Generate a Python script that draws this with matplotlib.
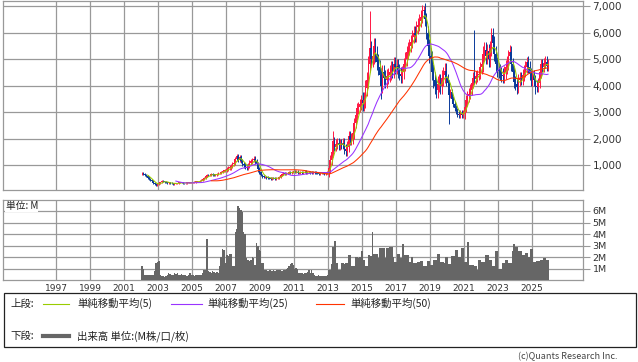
import matplotlib
matplotlib.use("Agg")
import matplotlib.pyplot as plt
import numpy as np
import pandas as pd
from matplotlib.patches import Rectangle
from matplotlib.lines import Line2D

# monthly candles, Jan 2002 .. Dec 2025 (one line per year)
start_year = 2002
monthly_close = [
    700, 680, 640, 600, 540, 500, 450, 400, 330, 280, 260, 300,          # 2002
    330, 360, 420, 400, 370, 350, 330, 340, 330, 320, 300, 310,          # 2003
    320, 330, 340, 350, 340, 330, 320, 330, 340, 340, 350, 360,          # 2004
    360, 370, 380, 390, 400, 420, 450, 480, 520, 600, 640, 620,          # 2005
    640, 660, 650, 630, 640, 660, 700, 720, 760, 780, 800, 820,          # 2006
    850, 900, 920, 980, 1050, 1100, 1250, 1350, 1200, 1300, 1150, 1050,  # 2007
    1000, 950, 900, 980, 1100, 1150, 1200, 1250, 1150, 1050, 850, 750,  # 2008
    650, 580, 550, 560, 540, 520, 510, 500, 520, 510, 500, 510,          # 2009
    530, 560, 620, 680, 700, 690, 700, 720, 740, 730, 750, 760,          # 2010
    740, 760, 700, 720, 750, 730, 740, 760, 720, 740, 750, 730,          # 2011
    720, 740, 730, 720, 700, 690, 700, 710, 700, 690, 700, 750,          # 2012
    900, 1200, 1500, 1900, 1700, 1800, 1850, 1750, 1800, 1780, 1850, 1600,  # 2013
    1550, 1700, 2100, 1950, 2000, 2200, 2600, 2900, 3150, 3200, 3300, 3450,  # 2014
    3350, 3450, 3900, 4200, 4800, 5400, 5000, 5100, 5500, 5200, 4900, 4700,  # 2015
    4400, 4000, 4500, 4300, 4200, 4350, 4400, 4500, 4650, 4550, 4800, 4700,  # 2016
    4750, 4550, 4450, 4350, 4500, 4800, 5000, 5250, 5400, 5500, 5650, 5850,  # 2017
    6000, 5900, 6200, 6300, 6450, 6600, 6800, 6850, 6500, 6000, 5500, 5100,  # 2018
    5000, 4500, 4200, 4000, 3850, 4050, 4150, 4000, 4300, 4400, 4550, 4300,  # 2019
    4100, 3650, 3750, 3500, 3300, 3150, 3050, 2950, 2900, 2950, 2900, 2950,  # 2020
    3200, 3450, 3600, 3700, 3850, 4100, 4300, 4250, 4350, 4400, 4450, 4700,  # 2021
    4800, 5200, 5350, 5100, 5300, 5000, 5400, 5900, 5600, 5200, 4800, 4600,  # 2022
    4550, 4450, 4400, 4350, 4500, 4700, 4850, 5100, 5250, 4800, 4500, 4150,  # 2023
    4050, 3950, 4200, 4300, 4250, 4400, 4550, 4700, 4900, 4700, 4450, 4200,  # 2024
    4400, 4200, 4000, 3950, 4100, 4500, 4800, 4700, 4850, 4900, 4750, 4800,  # 2025
]

# typical wick length beyond the body for each year, 2002 .. 2025
wick_pad = [40, 25, 20, 25, 35, 80, 90, 40, 40, 45, 40, 180,
            200, 300, 280, 250, 250, 300, 120, 200, 280, 250, 220, 200]

# notable wick extremes: (month index, value)
wick_high = [(0, 760), (67, 1420), (135, 2280), (161, 6800), (199, 7000),
             (235, 6100), (260, 5520), (272, 5080)]
wick_low = [(0, 620), (169, 3500), (217, 2540), (265, 3680), (278, 3680)]

# monthly volume in millions
monthly_volume = [
    1.2, 1.0, 0.45, 0.45, 0.5, 0.45, 0.45, 0.5, 0.45, 0.8, 1.5, 1.6,   # 2002
    1.7, 0.5, 0.35, 0.35, 0.3, 0.35, 0.5, 0.6, 0.55, 0.45, 0.5, 0.6,   # 2003
    0.55, 0.6, 0.5, 0.45, 0.55, 0.5, 0.5, 0.45, 0.4, 0.5, 0.6, 0.45,   # 2004
    0.45, 0.4, 0.45, 0.5, 0.5, 0.45, 0.5, 0.6, 0.9, 0.9, 3.6, 0.8,     # 2005
    0.7, 0.6, 0.8, 0.7, 0.6, 0.7, 0.6, 1.2, 2.0, 2.7, 2.6, 1.5,        # 2006
    2.2, 2.1, 2.3, 2.3, 1.2, 1.2, 4.2, 4.4, 6.4, 6.3, 6.1, 5.9,        # 2007
    4.2, 4.0, 1.9, 1.8, 1.7, 1.8, 2.0, 1.9, 1.3, 3.2, 3.0, 2.6,        # 2008
    2.5, 1.5, 1.5, 0.9, 0.9, 0.8, 0.9, 0.85, 0.8, 0.9, 0.8, 0.85,      # 2009
    0.9, 0.85, 0.9, 0.8, 0.9, 0.9, 1.0, 1.1, 1.2, 1.4, 1.5, 1.3,       # 2010
    1.0, 1.1, 1.0, 0.6, 0.6, 0.6, 0.55, 0.6, 0.6, 0.7, 0.9, 0.6,       # 2011
    0.9, 0.6, 0.5, 0.4, 0.4, 0.45, 0.4, 0.35, 0.4, 0.4, 0.4, 0.45,     # 2012
    0.9, 0.9, 1.4, 2.9, 3.4, 3.4, 1.5, 0.9, 0.9, 1.5, 1.5, 1.4,        # 2013
    1.5, 1.5, 2.2, 2.2, 1.2, 1.2, 1.2, 2.0, 2.0, 1.9, 2.0, 2.5,        # 2014
    2.5, 1.8, 1.2, 1.2, 2.2, 2.2, 2.1, 4.2, 2.3, 2.3, 2.3, 1.9,        # 2015
    2.8, 2.8, 2.8, 2.8, 1.9, 2.8, 2.8, 2.9, 2.9, 2.9, 2.0, 1.6,        # 2016
    1.6, 2.3, 2.3, 1.9, 3.1, 3.1, 2.2, 2.2, 2.2, 1.6, 1.6, 2.0,        # 2017
    1.5, 1.5, 1.5, 1.6, 1.6, 1.7, 1.7, 1.2, 1.2, 1.2, 1.7, 1.7,        # 2018
    1.3, 1.3, 1.75, 1.75, 1.75, 2.3, 2.3, 1.6, 1.6, 1.6, 1.5, 2.0,     # 2019
    2.0, 1.4, 1.4, 2.1, 2.1, 2.1, 2.6, 2.6, 2.0, 2.0, 2.8, 2.8,        # 2020
    1.6, 1.6, 3.3, 3.3, 1.3, 1.3, 1.3, 1.2, 1.2, 0.9, 1.8, 1.8,        # 2021
    1.6, 1.6, 1.6, 2.2, 2.2, 2.2, 1.75, 1.75, 1.2, 1.2, 2.5, 2.5,      # 2022
    1.0, 1.0, 1.0, 1.5, 1.5, 1.8, 1.8, 1.5, 1.5, 1.5, 2.5, 3.15,       # 2023
    2.85, 2.85, 2.5, 2.5, 2.5, 2.2, 2.2, 2.4, 2.4, 2.0, 2.0, 2.7,      # 2024
    2.7, 1.6, 1.6, 1.7, 1.7, 1.7, 1.75, 1.75, 1.9, 1.9, 1.8, 1.8,      # 2025
]

year_ticks = list(range(1997, 2026, 2))
price_ticks = [1000, 2000, 3000, 4000, 5000, 6000, 7000]
volume_ticks = [1, 2, 3, 4, 5, 6]
ma_windows = [5, 25, 50]
ma_colors = ["#99cc00", "#9933ff", "#ff3300"]
ma_labels = ["単純移動平均(5)", "単純移動平均(25)", "単純移動平均(50)"]

W, H = 638, 362
GRID = "#999999"
JP = ["Noto Sans CJK JP", "DejaVu Sans"]


def fx(px):
    return px / W


def fy(py):
    return 1 - py / H


close = np.array(monthly_close, float)
open_ = np.r_[close[0], close[:-1]]
pad = np.repeat(wick_pad, 12)
high = np.maximum(open_, close) + pad
low = np.minimum(open_, close) - pad
for i, v in wick_high:
    high[i] = v
for i, v in wick_low:
    low[i] = v
x = start_year + (np.arange(len(close)) + 0.5) / 12
up = close >= open_
colors = np.where(up, "#ff1744", "#0a3a9a")

fig = plt.figure(figsize=(W / 100, H / 100), dpi=100)

# --- price panel ---
ax1 = fig.add_axes([fx(3.3), fy(190.3), fx(582.7) - fx(3.3), fy(0.5) - fy(190.3)])
ax1.vlines(x, low, high, colors=colors, lw=0.7, zorder=3)
body = np.maximum(np.abs(close - open_), 25)
ax1.bar(x, body, bottom=np.minimum(open_, close), width=0.095, color=colors,
        linewidth=0, zorder=3)
ser = pd.Series(close)
for n, c in zip(ma_windows, ma_colors):
    ax1.plot(x, ser.rolling(n).mean(), color=c, lw=0.75, zorder=4)

ax1.set_xlim(1993.88, 2028.0)
ax1.set_ylim(58, 7207)
ax1.set_xticks(year_ticks)
ax1.tick_params(axis="x", length=0, labelbottom=False)
ax1.yaxis.tick_right()
ax1.set_yticks(price_ticks)
ax1.set_yticklabels([f"{v:,}" for v in price_ticks])
ax1.tick_params(axis="y", length=5, width=0.8, color=GRID, labelsize=7.5, pad=2,
                labelcolor="#333333")
ax1.grid(True, color=GRID, lw=0.9, zorder=0)
for s in ax1.spines.values():
    s.set_color(GRID)
    s.set_linewidth(0.9)

# --- volume panel ---
ax2 = fig.add_axes([fx(3.3), fy(280.3), fx(582.7) - fx(3.3), fy(200) - fy(280.3)])
ax2.bar(x, monthly_volume, width=1 / 12, color="#666666", linewidth=0, zorder=3)
ax2.set_xlim(1993.88, 2028.0)
ax2.set_ylim(0, 6.95)
ax2.set_xticks(year_ticks)
ax2.set_xticklabels([str(y) for y in year_ticks])
ax2.tick_params(axis="x", length=0, labelsize=6.5, pad=2.5, labelcolor="#333333")
ax2.yaxis.tick_right()
ax2.set_yticks(volume_ticks)
ax2.set_yticklabels([f"{v}M" for v in volume_ticks])
ax2.tick_params(axis="y", length=5, width=0.8, color=GRID, labelsize=6.8, pad=2,
                labelcolor="#333333")
ax2.grid(True, color=GRID, lw=0.9, zorder=0)
for s in ax2.spines.values():
    s.set_color(GRID)
    s.set_linewidth(0.9)
ax2.text(0.004, 0.985, "単位: M", transform=ax2.transAxes, ha="left", va="top",
         fontsize=7, family=JP, color="#222222", zorder=5,
         bbox=dict(facecolor="white", edgecolor="none", pad=0.3))

# --- legend box ---
fig.patches.append(Rectangle((fx(3.5), fy(347)), fx(635.5) - fx(3.5), fy(293) - fy(347),
                             transform=fig.transFigure, fill=False,
                             edgecolor="#222222", lw=0.9))
row1, row2 = 303.5, 336
fig.text(fx(10), fy(row1), "上段:", family=JP, fontsize=7.5, va="center", color="#222222")
line_spans = [(43, 69), (171, 202), (316, 344)]
text_x = [77, 207, 350]
for (a, b), tx, c, lab in zip(line_spans, text_x, ma_colors, ma_labels):
    fig.lines.append(Line2D([fx(a), fx(b)], [fy(row1), fy(row1)], color=c, lw=0.8,
                            transform=fig.transFigure))
    fig.text(fx(tx), fy(row1), lab, family=JP, fontsize=7.5, va="center", color="#222222")
fig.text(fx(10), fy(row2), "下段:", family=JP, fontsize=7.5, va="center", color="#222222")
fig.lines.append(Line2D([fx(43), fx(69)], [fy(row2), fy(row2)], color="#666666", lw=3,
                        transform=fig.transFigure))
fig.text(fx(77), fy(row2), "出来高 単位:(M株/口/枚)", family=JP, fontsize=7.5,
         va="center", color="#222222")

fig.text(fx(617), fy(357), "(c)Quants Research Inc.", family=JP, fontsize=6.5,
         ha="right", va="center", color="#444444")

fig.savefig("out.png", dpi=100)
